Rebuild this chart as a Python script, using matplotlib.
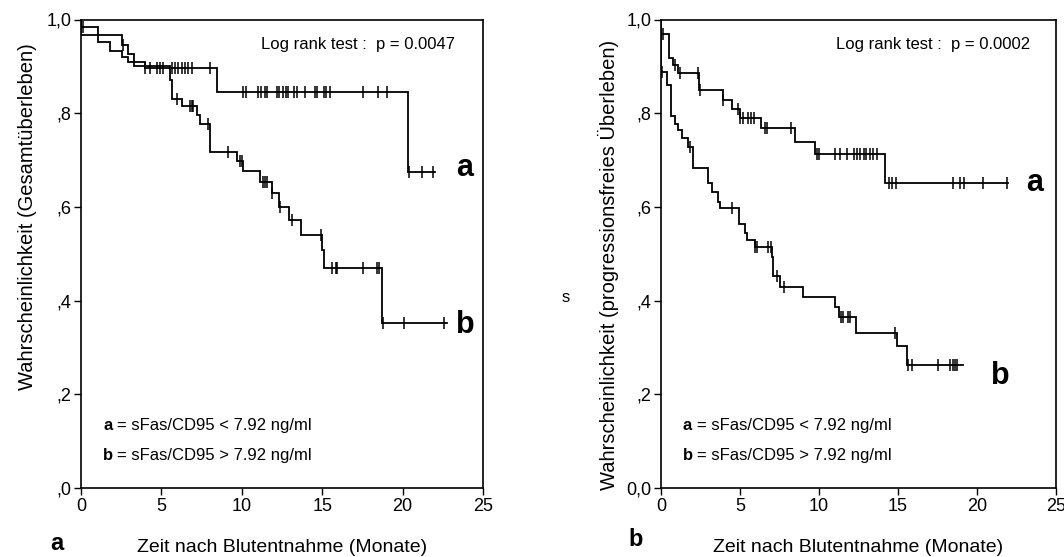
import matplotlib
matplotlib.use("Agg")
import matplotlib.pyplot as plt
import matplotlib.transforms as mtransforms
import numpy as np

plt.rcParams['font.family'] = ['Liberation Sans', 'DejaVu Sans']

# Gesamtüberleben (links): Ereigniszeiten und Überlebensniveau danach
left_a_times = [0, 2.53, 2.9, 3.3, 4.0, 8.44, 20.36]
left_a_surv = [0.967, 0.946, 0.926, 0.91, 0.896, 0.845, 0.675]
left_a_end = 22.0
left_a_cens = [2.6, 4.0, 4.3, 4.7, 4.9, 5.1, 5.64, 5.85, 6.05, 6.25, 6.45, 6.65, 6.88,
               8.02, 10.09, 10.26, 11.03, 11.17, 11.44, 11.59, 12.17, 12.33, 12.58,
               12.75, 12.89, 13.25, 13.41, 13.93, 14.55, 14.65, 15.11, 15.24, 15.49,
               17.56, 18.49, 19.01, 20.4, 21.19, 21.87]

left_b_times = [0, 1.08, 1.8, 2.53, 2.9, 3.3, 5.53, 5.64, 6.26, 7.19, 7.4, 8.02, 9.68,
                10.05, 11.13, 11.86, 12.33, 12.95, 13.66, 15.0, 15.1, 18.7]
left_b_surv = [0.985, 0.951, 0.933, 0.921, 0.91, 0.90, 0.871, 0.830, 0.815, 0.796,
               0.778, 0.718, 0.697, 0.677, 0.654, 0.629, 0.600, 0.572, 0.540, 0.508,
               0.469, 0.352]
left_b_end = 22.74
left_b_cens = [0.15, 5.99, 6.8, 6.9, 6.97, 7.92, 9.16, 9.9, 10.0, 11.34, 11.45, 11.55,
               11.9, 12.38, 13.1, 14.95, 15.59, 15.86, 15.94, 17.52, 18.39, 18.55,
               18.76, 20.09, 22.57]

# progressionsfreies Überleben (rechts)
right_a_times = [0, 0.53, 0.78, 1.09, 2.43, 3.9, 4.47, 5.0, 6.33, 8.48, 9.75, 14.18]
right_a_surv = [0.969, 0.917, 0.903, 0.885, 0.850, 0.828, 0.808, 0.789, 0.768, 0.739,
                0.713, 0.652]
right_a_end = 21.98
right_a_cens = [0.1, 0.89, 1.2, 2.36, 2.47, 3.9, 4.9, 5.0, 5.2, 5.5, 5.7, 5.9, 6.6, 6.7,
                8.2, 9.9, 10.0, 11.0, 11.3, 11.8, 12.2, 12.4, 12.6, 12.85, 13.0, 13.2,
                13.4, 13.7, 14.4, 14.6, 14.9, 18.5, 18.9, 19.2, 20.4, 21.9]

right_b_times = [0, 0.36, 0.61, 0.89, 1.1, 1.31, 1.73, 2.04, 2.99, 3.2, 3.63, 3.73,
                 4.96, 5.32, 5.46, 5.95, 7.0, 7.1, 7.53, 9.0, 11.0, 11.28, 12.34,
                 14.92, 15.55]
right_b_surv = [0.889, 0.86, 0.793, 0.778, 0.764, 0.746, 0.728, 0.682, 0.650, 0.632,
                0.611, 0.597, 0.563, 0.545, 0.529, 0.514, 0.492, 0.452, 0.430, 0.407,
                0.386, 0.364, 0.331, 0.303, 0.263]
right_b_end = 19.13
right_b_cens = [0.05, 1.84, 4.47, 5.95, 6.05, 6.79, 6.96, 7.32, 7.78, 11.37, 11.5,
                11.86, 11.96, 14.81, 15.65, 15.87, 17.55, 18.29, 18.45, 18.6, 18.73]

yticks = [0, 0.2, 0.4, 0.6, 0.8, 1.0]
left_ylabels = [",0", ",2", ",4", ",6", ",8", "1,0"]
right_ylabels = ["0,0", ",2", ",4", ",6", ",8", "1,0"]
xticks = [0, 5, 10, 15, 20, 25]


def km_curve(ax, times, surv, end, cens):
    ys = [1.0] + list(surv)
    # Stufenfunktion: Niveau gilt ab Ereigniszeit
    px, py = [0], [1.0]
    for i, t in enumerate(times):
        px += [t, t]
        py += [ys[i], ys[i + 1]]
    px.append(end)
    py.append(ys[-1])
    ax.plot(px, py, color='black', lw=1.3, solid_joinstyle='miter')
    # zensierte Fälle
    cy = []
    for c in cens:
        idx = np.searchsorted(times, c, side='right') - 1
        cy.append(surv[max(idx, 0)])
    ax.plot(cens, cy, ls='none', marker='|', ms=9, mew=1.1, color='black')


def legend_text(ax, x, y, letter, rest):
    ax.text(x, y, letter, fontsize=12, fontweight='bold', ha='left', va='center')
    tr = mtransforms.offset_copy(ax.transData, fig=ax.figure, x=14, y=0, units='dots')
    ax.text(x, y, rest, fontsize=12, ha='left', va='center', transform=tr)


fig = plt.figure(figsize=(10.64, 5.57), dpi=100)
ax1 = fig.add_axes([81 / 1064, 1 - 488 / 557, (483 - 81) / 1064, (488 - 19.5) / 557])
ax2 = fig.add_axes([661 / 1064, 1 - 488 / 557, (1056 - 661) / 1064, (488 - 19.5) / 557])

km_curve(ax1, left_a_times, left_a_surv, left_a_end, left_a_cens)
km_curve(ax1, left_b_times, left_b_surv, left_b_end, left_b_cens)
km_curve(ax2, right_a_times, right_a_surv, right_a_end, right_a_cens)
km_curve(ax2, right_b_times, right_b_surv, right_b_end, right_b_cens)

panels = [
    (ax1, left_ylabels, "Wahrscheinlichkeit (Gesamtüberleben)", "0.0047", 0.58, 0.930),
    (ax2, right_ylabels, "Wahrscheinlichkeit (progressionsfreies Überleben)", "0.0002", 0.476, 0.934),
]
for ax, ylabs, ylabel, p, ylab_y, p_x in panels:
    ax.set_xlim(0, 25)
    ax.set_ylim(0, 1.0)
    ax.set_xticks(xticks)
    ax.set_xticklabels([str(t) for t in xticks], fontsize=13)
    ax.set_yticks(yticks)
    ax.set_yticklabels(ylabs, fontsize=13)
    ax.tick_params(direction='out', length=5, width=1, color='black', pad=2)
    for s in ax.spines.values():
        s.set_linewidth(1.2)
    ax.set_ylabel(ylabel, fontsize=14.5, va='center')
    ax.yaxis.set_label_coords(-0.133, ylab_y)
    ax.set_xlabel("Zeit nach Blutentnahme (Monate)", fontsize=14, va='center')
    ax.xaxis.set_label_coords(0.5, -0.128)
    ax.text(p_x, 0.946, "Log rank test :  p = " + p,
            fontsize=12, transform=ax.transAxes, va='center', ha='right')
    legend_text(ax, 1.37, 0.134, "a", "= sFas/CD95 < 7.92 ng/ml")
    legend_text(ax, 1.37, 0.070, "b", "= sFas/CD95 > 7.92 ng/ml")

ax1.text(23.3, 0.683, "a", fontsize=22, fontweight='bold', va='center')
ax1.text(23.3, 0.348, "b", fontsize=22, fontweight='bold', va='center')
ax2.text(23.1, 0.651, "a", fontsize=22, fontweight='bold', va='center')
ax2.text(20.9, 0.24, "b", fontsize=22, fontweight='bold', va='center')

fig.text(566 / 1064, 1 - 297 / 557, "s", fontsize=12, ha='center', va='center')
fig.text(57 / 1064, 1 - 543 / 557, "a", fontsize=17, fontweight='bold', ha='center', va='center')
fig.text(636 / 1064, 1 - 540 / 557, "b", fontsize=17, fontweight='bold', ha='center', va='center')

fig.savefig("out.png", dpi=100)
